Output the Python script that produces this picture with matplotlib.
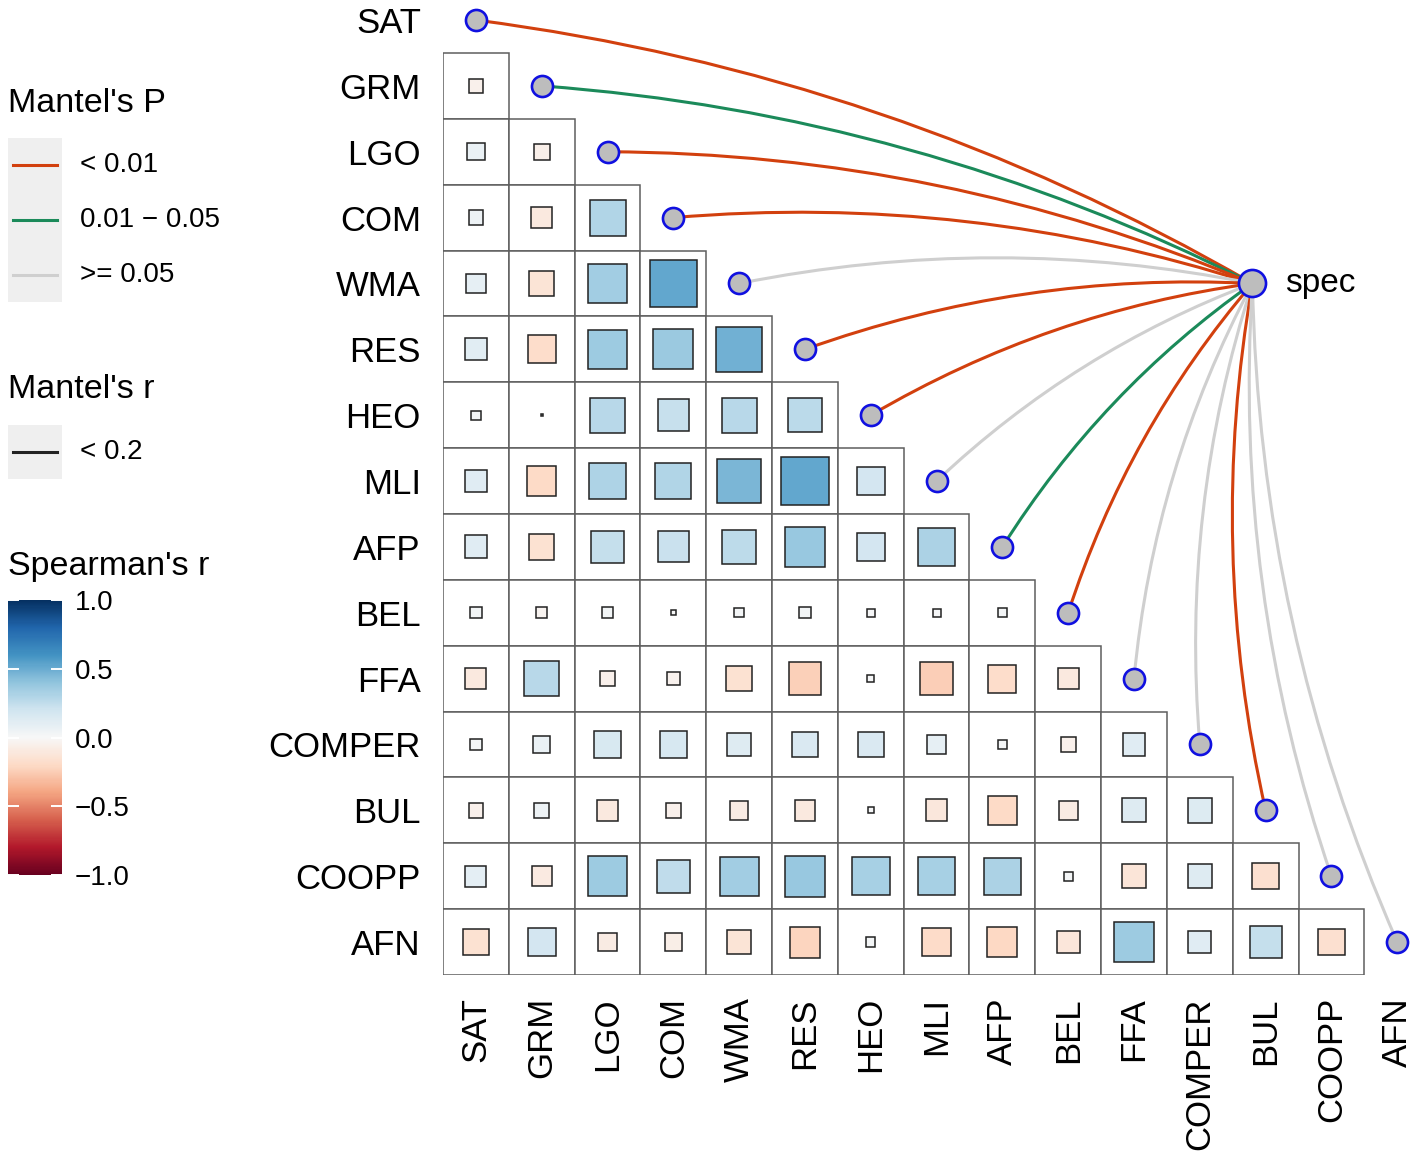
import numpy as np
import matplotlib.pyplot as plt
import matplotlib as mpl
from matplotlib.patches import Rectangle, PathPatch
from matplotlib.path import Path

plt.rcParams['font.family'] = ['Liberation Sans', 'DejaVu Sans']

variables = ["SAT", "GRM", "LGO", "COM", "WMA", "RES", "HEO", "MLI", "AFP",
             "BEL", "FFA", "COMPER", "BUL", "COOPP", "AFN"]

# spearman r, lower triangle: row i holds columns 0..i-1
spearman_rows = [
    [],
    [-0.05],
    [0.07, -0.06],
    [0.05, -0.10, 0.30],
    [0.09, -0.14, 0.35, 0.52],
    [0.11, -0.18, 0.36, 0.37, 0.48],
    [0.02, 0.001, 0.28, 0.23, 0.28, 0.27],
    [0.12, -0.20, 0.31, 0.30, 0.46, 0.52, 0.18],
    [0.12, -0.15, 0.24, 0.22, 0.26, 0.38, 0.18, 0.32],
    [0.03, -0.03, 0.03, 0.006, 0.02, 0.03, 0.015, 0.015, 0.02],
    [-0.10, 0.28, -0.05, -0.04, -0.15, -0.24, 0.01, -0.25, -0.18, -0.10],
    [0.03, 0.07, 0.16, 0.17, 0.13, 0.15, 0.15, 0.09, 0.02, -0.05, 0.12],
    [-0.05, 0.05, -0.10, -0.05, -0.08, -0.10, 0.008, -0.11, -0.20, -0.08, 0.13, 0.14],
    [0.10, -0.09, 0.36, 0.25, 0.35, 0.38, 0.33, 0.33, 0.32, 0.02, -0.13, 0.13, -0.16],
    [-0.15, 0.18, -0.08, -0.07, -0.14, -0.22, 0.02, -0.19, -0.21, -0.12, 0.36, 0.12, 0.24, -0.16],
]

# mantel test of spec vs each variable
mantel_p = ["<0.01", "0.01-0.05", "<0.01", "<0.01", ">=0.05", "<0.01", "<0.01",
            ">=0.05", "0.01-0.05", "<0.01", ">=0.05", ">=0.05", "<0.01", ">=0.05", ">=0.05"]
p_labels = ["< 0.01", "0.01 \u2212 0.05", ">= 0.05"]
p_colors = {"<0.01": "#D2400E", "0.01-0.05": "#1B8A5A", ">=0.05": "#CFCFCF"}
spec_pos = (11.8, 4.0)

W, H = 1417, 1156
fig = plt.figure(figsize=(W / 100, H / 100), dpi=100)

# main panel, cell units
ax = fig.add_axes([443 / W, 1 - 975 / H, 974 / W, 975 / H])
ax.set_xlim(-0.5, 14.3)
ax.set_ylim(14.5, -0.304)

cmap = plt.get_cmap("RdBu")
norm = mpl.colors.Normalize(-1, 1)

n = len(variables)
for i in range(n):
    for j, r in enumerate(spearman_rows[i]):
        ax.add_patch(Rectangle((j - 0.5, i - 0.5), 1, 1, fc="white",
                               ec="#5e5e5e", lw=1.1, zorder=1))
        s = np.sqrt(abs(r))
        ax.add_patch(Rectangle((j - s / 2, i - s / 2), s, s, fc=cmap(norm(r)),
                               ec="#222222", lw=1.1, zorder=2))

# mantel links
rad = 0.1
for i in range(n):
    x0, y0 = i, i
    x1, y1 = spec_pos
    dx, dy = x1 - x0, y1 - y0
    cx = (x0 + x1) / 2 + rad * dy
    cy = (y0 + y1) / 2 - rad * dx
    path = Path([(x0, y0), (cx, cy), (x1, y1)],
                [Path.MOVETO, Path.CURVE3, Path.CURVE3])
    ax.add_patch(PathPatch(path, fc="none", ec=p_colors[mantel_p[i]],
                           lw=2.2, zorder=3, capstyle="round"))

ax.scatter(range(n), range(n), s=230, c="#BDBDBD", edgecolors="#1010E0",
           linewidths=1.9, zorder=5)
ax.scatter([spec_pos[0]], [spec_pos[1]], s=380, c="#BDBDBD",
           edgecolors="#1010E0", linewidths=1.9, zorder=5)
ax.text(spec_pos[0] + 0.5, spec_pos[1], "spec", fontsize=24,
        ha="left", va="center", zorder=6)

ax.set_xticks(range(n))
ax.set_xticklabels(variables, rotation=90, fontsize=25)
ax.set_yticks(range(n))
ax.set_yticklabels(variables, fontsize=25)
ax.tick_params(length=0, pad=16)
for sp in ax.spines.values():
    sp.set_visible(False)

# legends, drawn in pixel space
lg = fig.add_axes([0, 0, 1, 1], zorder=-1)
lg.set_xlim(0, W)
lg.set_ylim(H, 0)
lg.axis("off")

lg.text(8, 103, "Mantel's P", fontsize=24.5, va="center", ha="left")
lg.add_patch(Rectangle((8, 138), 54, 164, fc="#EFEFEF", ec="none"))
for k, key in enumerate(["<0.01", "0.01-0.05", ">=0.05"]):
    yy = 165 + 55 * k
    lg.plot([13, 57], [yy, yy], color=p_colors[key], lw=2.2)
    lg.text(80, yy, p_labels[k], fontsize=20, va="center", ha="left")

lg.text(8, 390, "Mantel's r", fontsize=24.5, va="center", ha="left")
lg.add_patch(Rectangle((8, 425), 54, 54, fc="#EFEFEF", ec="none"))
lg.plot([13, 57], [452, 452], color="#222222", lw=2.2)
lg.text(80, 452, "< 0.2", fontsize=20, va="center", ha="left")

lg.text(8, 567, "Spearman's r", fontsize=24.5, va="center", ha="left")

cax = fig.add_axes([8 / W, 1 - 875 / H, 54 / W, 275 / H])
cb = fig.colorbar(mpl.cm.ScalarMappable(norm=norm, cmap=cmap), cax=cax,
                  ticks=[-1, -0.5, 0, 0.5, 1])
cb.ax.set_yticklabels(["\u22121.0", "\u22120.5", "0.0", "0.5", "1.0"])
cb.outline.set_visible(False)
cb.ax.tick_params(direction="in", color="white", length=8, width=1.4,
                  left=True, right=True, labelsize=20, pad=9)

fig.savefig("out.png", dpi=100)
